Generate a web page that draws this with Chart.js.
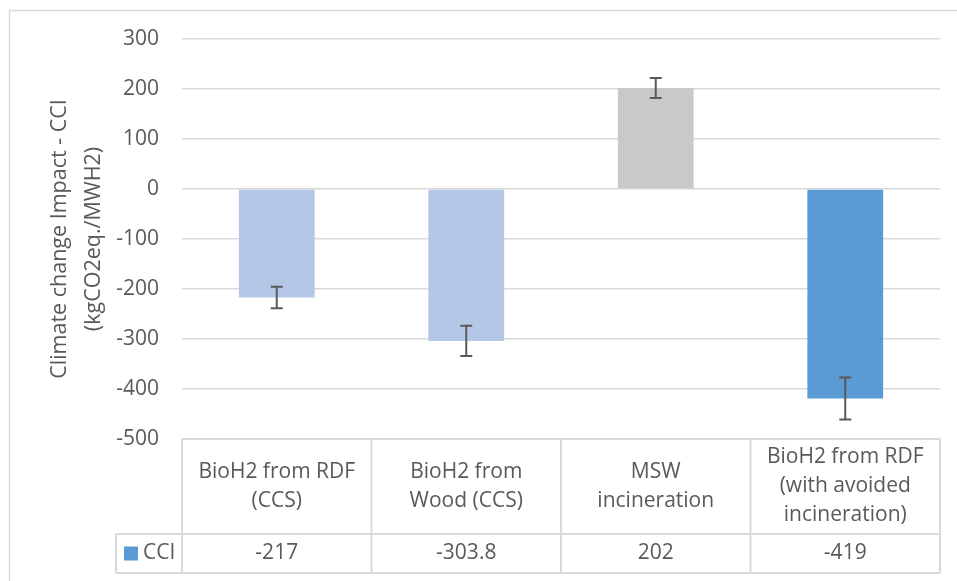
<!DOCTYPE html>
<html>
<head>
<meta charset="utf-8">
<script src="https://cdn.jsdelivr.net/npm/chart.js@4.4.1/dist/chart.umd.min.js"></script>
<style>
    body { margin: 0; background: #fff; }
    canvas { display: block; }
</style>
</head>
<body>
<canvas id="cciChart" width="957" height="581"></canvas>
<script>
// Chart data
const categories = [
    ["BioH2 from RDF", "(CCS)"],
    ["BioH2 from", "Wood (CCS)"],
    ["MSW", "incineration"],
    ["BioH2 from RDF", "(with avoided", "incineration)"]
];
const cciValues = [-217, -303.8, 202, -419];
const cciErrors = [21.7, 30.4, 20.2, 41.9];
const barColors = ["#B4C7E7", "#B4C7E7", "#C9C9C9", "#5B9BD5"];
const yTickMin = -500;
const yTickMax = 300;
const yTickStep = 100;
const seriesName = "CCI";
const axisTitle = ["Climate change Impact - CCI", "(kgCO2eq./MWH2)"];

const textColor = "#595959";
const lineColor = "#D9D9D9";
const fontFamily = "'Open Sans', sans-serif";

// White background + outer chart border
const chartBorder = {
    id: "chartBorder",
    beforeDraw(chart) {
        const ctx = chart.ctx;
        ctx.save();
        ctx.fillStyle = "#fff";
        ctx.fillRect(0, 0, chart.width, chart.height);
        ctx.strokeStyle = lineColor;
        ctx.lineWidth = 1.5;
        ctx.strokeRect(9.5, 10.5, chart.width, chart.height);
        ctx.restore();
    }
};

// Error bars on top of each bar
const errorBars = {
    id: "errorBars",
    afterDatasetsDraw(chart) {
        const ctx = chart.ctx;
        const y = chart.scales.y;
        const meta = chart.getDatasetMeta(0);
        ctx.save();
        ctx.strokeStyle = textColor;
        ctx.lineWidth = 2;
        meta.data.forEach((bar, i) => {
            const hi = y.getPixelForValue(cciValues[i] + cciErrors[i]);
            const lo = y.getPixelForValue(cciValues[i] - cciErrors[i]);
            ctx.beginPath();
            ctx.moveTo(bar.x, hi); ctx.lineTo(bar.x, lo);
            ctx.moveTo(bar.x - 6, hi); ctx.lineTo(bar.x + 6, hi);
            ctx.moveTo(bar.x - 6, lo); ctx.lineTo(bar.x + 6, lo);
            ctx.stroke();
        });
        ctx.restore();
    }
};

// Excel style data table under the plot
const dataTable = {
    id: "dataTable",
    afterDraw(chart) {
        const { ctx, chartArea } = chart;
        const x = chart.scales.x;
        const top = chartArea.bottom;
        const mid = top + 95;
        const bottom = mid + 39;
        const legendLeft = 116;
        const colW = (chartArea.right - chartArea.left) / categories.length;

        ctx.save();
        ctx.strokeStyle = lineColor;
        ctx.lineWidth = 2;
        ctx.beginPath();
        ctx.moveTo(chartArea.left, top); ctx.lineTo(chartArea.right, top);
        ctx.moveTo(legendLeft, mid); ctx.lineTo(chartArea.right, mid);
        ctx.moveTo(legendLeft, bottom); ctx.lineTo(chartArea.right, bottom);
        ctx.moveTo(legendLeft, mid); ctx.lineTo(legendLeft, bottom);
        ctx.moveTo(chartArea.left, top); ctx.lineTo(chartArea.left, bottom);
        categories.forEach((c, i) => {
            const edge = x.getPixelForValue(i) + colW / 2;
            ctx.moveTo(edge, top); ctx.lineTo(edge, bottom);
        });
        ctx.stroke();

        ctx.fillStyle = textColor;
        ctx.font = "21px " + fontFamily;
        ctx.textAlign = "center";
        ctx.textBaseline = "middle";
        const lineH = 29;
        categories.forEach((lines, i) => {
            const cx = x.getPixelForValue(i);
            const cy = (top + mid) / 2 - (lines.length - 1) * lineH / 2;
            lines.forEach((t, j) => ctx.fillText(t, cx, cy + j * lineH));
            ctx.fillText(String(cciValues[i]), cx, (mid + bottom) / 2);
        });

        // legend key
        const ly = (mid + bottom) / 2;
        ctx.fillStyle = "#5B9BD5";
        ctx.fillRect(124, ly - 7, 14, 14);
        ctx.fillStyle = textColor;
        ctx.textAlign = "left";
        ctx.fillText(seriesName, 143, ly);
        ctx.restore();
    }
};

new Chart(document.getElementById("cciChart"), {
    type: "bar",
    data: {
        labels: categories,
        datasets: [{
            label: seriesName,
            data: cciValues,
            backgroundColor: barColors,
            categoryPercentage: 0.4,
            barPercentage: 1.0
        }]
    },
    options: {
        responsive: false,
        animation: false,
        layout: { padding: { left: 0, right: 17, top: 39, bottom: 142 } },
        plugins: {
            legend: { display: false },
            tooltip: { enabled: false }
        },
        scales: {
            x: { display: false },
            y: {
                min: yTickMin,
                max: yTickMax,
                ticks: {
                    stepSize: yTickStep,
                    color: textColor,
                    font: { family: fontFamily, size: 21 },
                    padding: 23
                },
                grid: { color: lineColor, lineWidth: 1.5, drawTicks: false },
                border: { display: false },
                title: {
                    display: true,
                    text: axisTitle,
                    color: textColor,
                    font: { family: fontFamily, size: 21.5, lineHeight: 1.55 },
                    padding: { top: 43.5, bottom: 0 }
                },
                afterFit(scale) { scale.width = 182; }
            }
        }
    },
    plugins: [chartBorder, errorBars, dataTable]
});
</script>
</body>
</html>
